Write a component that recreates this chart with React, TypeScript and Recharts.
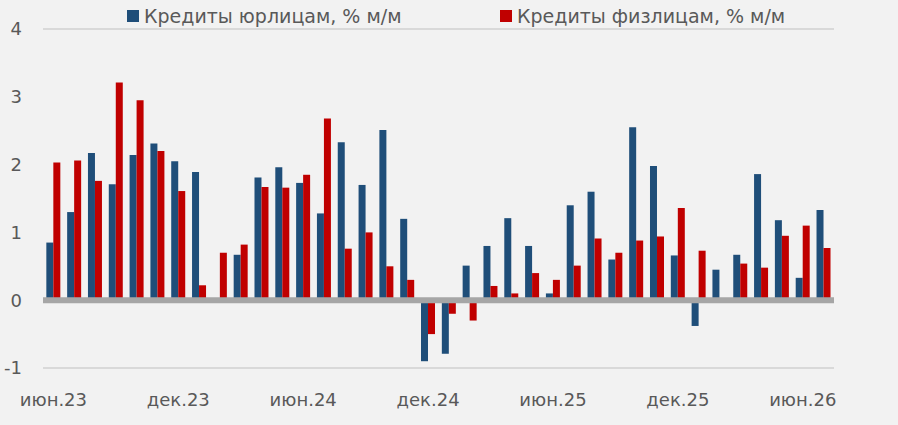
import React from "react";
import {
  BarChart,
  Bar,
  XAxis,
  YAxis,
  CartesianGrid,
  ReferenceLine,
} from "recharts";

const months = [
  "июн.23", "июл.23", "авг.23", "сен.23", "окт.23", "ноя.23", "дек.23",
  "янв.24", "фев.24", "мар.24", "апр.24", "май.24", "июн.24", "июл.24",
  "авг.24", "сен.24", "окт.24", "ноя.24", "дек.24", "янв.25", "фев.25",
  "мар.25", "апр.25", "май.25", "июн.25", "июл.25", "авг.25", "сен.25",
  "окт.25", "ноя.25", "дек.25", "янв.26", "фев.26", "мар.26", "апр.26",
  "май.26", "июн.26", "июл.26",
];

const corporate = [
  0.85, 1.3, 2.17, 1.71, 2.14, 2.31, 2.05, 1.89, 0, 0.67, 1.81, 1.96, 1.73,
  1.28, 2.33, 1.7, 2.51, 1.2, -0.9, -0.79, 0.51, 0.8, 1.21, 0.8, 0.1, 1.4,
  1.6, 0.6, 2.55, 1.98, 0.66, -0.38, 0.45, 0.67, 1.86, 1.18, 0.33, 1.33,
];

const retail = [
  2.03, 2.06, 1.76, 3.21, 2.95, 2.2, 1.61, 0.22, 0.7, 0.82, 1.67, 1.66, 1.85,
  2.68, 0.76, 1.0, 0.5, 0.3, -0.5, -0.2, -0.3, 0.21, 0.1, 0.4, 0.3, 0.51,
  0.91, 0.7, 0.88, 0.94, 1.36, 0.73, 0, 0.54, 0.48, 0.95, 1.1, 0.77,
];

const yTicks = [-1, 0, 1, 2, 3, 4];

const seriesNames = ["Кредиты юрлицам, % м/м", "Кредиты физлицам, % м/м"];

const BLUE = "#1F4E79";
const RED = "#C00000";
const TEXT = "#595959";
const FONT = "'DejaVu Sans', sans-serif";

const data = months.map((m, i) => ({
  month: m,
  corporate: corporate[i],
  retail: retail[i],
}));

function ChartLegend() {
  const items = [
    { label: seriesNames[0], color: BLUE, left: 127 },
    { label: seriesNames[1], color: RED, left: 500 },
  ];
  return (
    <>
      {items.map((it) => (
        <div
          key={it.label}
          style={{
            position: "absolute",
            left: it.left,
            top: 5,
            display: "flex",
            alignItems: "center",
            fontFamily: FONT,
            fontSize: 19,
            color: TEXT,
            whiteSpace: "nowrap",
          }}
        >
          <span
            style={{
              display: "inline-block",
              width: 12,
              height: 12,
              background: it.color,
              marginRight: 5,
            }}
          />
          {it.label}
        </div>
      ))}
    </>
  );
}

export default function App() {
  return (
    <div style={{ position: "relative", width: 898, height: 425, background: "#F2F2F2" }}>
      <style>{`body{margin:0;}`}</style>
      <BarChart
        width={898}
        height={425}
        data={data}
        margin={{ top: 29, right: 0, bottom: 0, left: 0 }}
        barCategoryGap="16%"
        barGap={0}
      >
        <CartesianGrid vertical={false} stroke="#D9D9D9" strokeWidth={2} />
        <XAxis
          dataKey="month"
          height={57}
          interval={5}
          axisLine={false}
          tickLine={false}
          tickMargin={19}
          tick={{ fontSize: 18, fill: TEXT, fontFamily: FONT }}
        />
        <YAxis
          yAxisId="left"
          width={43}
          domain={[-1, 4]}
          ticks={yTicks}
          axisLine={false}
          tickLine={false}
          tickMargin={15}
          tick={{ fontSize: 18, fill: TEXT, fontFamily: FONT }}
        />
        <YAxis
          yAxisId="right"
          orientation="right"
          width={64}
          domain={[-1, 4]}
          ticks={yTicks}
          axisLine={false}
          tickLine={false}
          tickMargin={15}
          tick={{ fontSize: 18, fill: TEXT, fontFamily: FONT, textAnchor: "start" }}
        />
        <Bar
          yAxisId="left"
          dataKey="corporate"
          name={seriesNames[0]}
          fill={BLUE}
          isAnimationActive={false}
        />
        <Bar
          yAxisId="left"
          dataKey="retail"
          name={seriesNames[1]}
          fill={RED}
          isAnimationActive={false}
        />
        <ReferenceLine yAxisId="left" y={0} stroke="#A6A6A6" strokeWidth={6} />
      </BarChart>
      <ChartLegend />
    </div>
  );
}
